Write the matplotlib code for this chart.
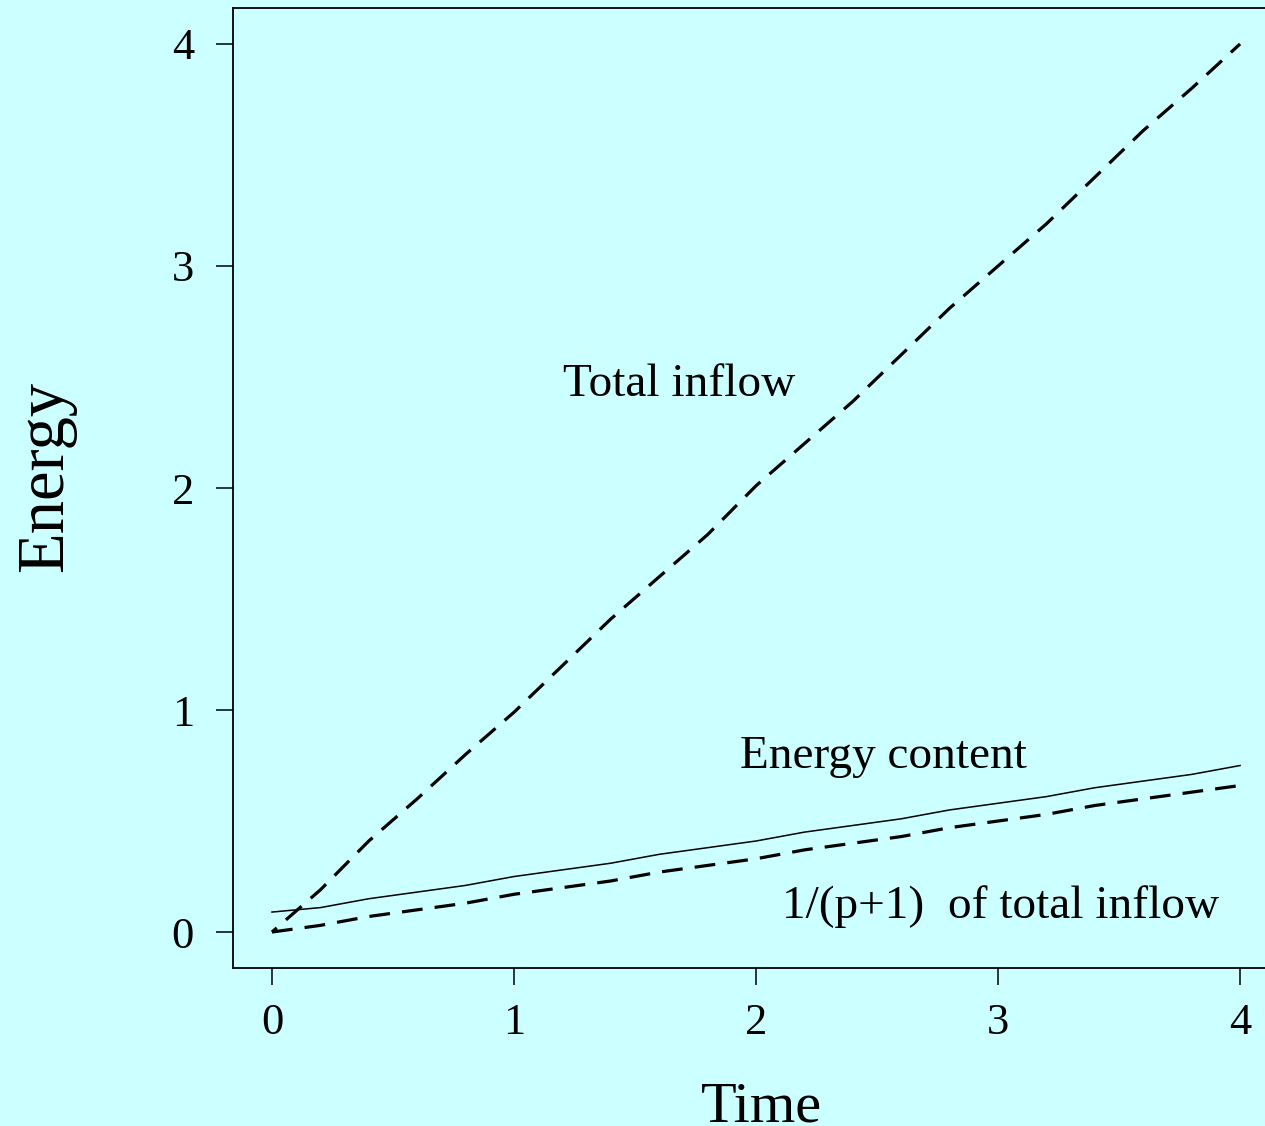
import numpy as np
import matplotlib
matplotlib.use('Agg')
import matplotlib.pyplot as plt

# values
time = [0.0, 0.2, 0.4, 0.6, 0.8, 1.0, 1.2, 1.4, 1.6, 1.8, 2.0,
        2.2, 2.4, 2.6, 2.8, 3.0, 3.2, 3.4, 3.6, 3.8, 4.0]
total_inflow = [0.00, 0.19, 0.41, 0.60, 0.80, 0.99, 1.20, 1.41, 1.60, 1.79, 2.01,
                2.20, 2.39, 2.60, 2.81, 3.00, 3.19, 3.40, 3.61, 3.80, 4.00]
energy_content = [0.09, 0.11, 0.15, 0.18, 0.21, 0.25, 0.28, 0.31, 0.35, 0.38, 0.41,
                  0.45, 0.48, 0.51, 0.55, 0.58, 0.61, 0.65, 0.68, 0.71, 0.75]
frac_inflow = [0.00, 0.03, 0.07, 0.10, 0.13, 0.17, 0.20, 0.23, 0.27, 0.30, 0.33,
               0.37, 0.40, 0.43, 0.47, 0.50, 0.53, 0.57, 0.60, 0.63, 0.66]
ticks = [0, 1, 2, 3, 4]

bg = '#ccffff'
W, H = 1265, 1126
fig = plt.figure(figsize=(W / 100, H / 100), dpi=100, facecolor=bg)
plt.rcParams['font.family'] = ['Liberation Serif', 'DejaVu Serif']

# axes box in pixels: left 233, top 8, bottom 968, right runs off the canvas
ax = fig.add_axes([233 / W, (H - 968) / H, (W - 233) / W, 960 / H])
ax.set_facecolor(bg)
ax.spines['right'].set_visible(False)
for s in ['left', 'top', 'bottom']:
    ax.spines[s].set_linewidth(1.3)

ax.plot(time, total_inflow, color='black', lw=2.3, linestyle=(4.5, (6.5, 3.8)))
ax.plot(time, frac_inflow, color='black', lw=2.3, dashes=(6.5, 3.8))
ax.plot(time, energy_content, color='black', lw=1.1)

ax.set_xlim(-0.161, 4.103)
ax.set_ylim(-0.162, 4.162)
ax.set_xticks(ticks)
ax.set_yticks(ticks)
ax.tick_params(length=12, width=1.1, labelsize=32)
ax.tick_params(axis='x', pad=13)
ax.tick_params(axis='y', pad=16)

ax.text(1.202, 2.414, 'Total inflow', fontsize=34)
ax.text(1.934, 0.739, 'Energy content', fontsize=34)
ax.text(2.107, 0.063, '1/(p+1)  of total inflow', fontsize=34)

fig.text(762 / W, 5 / H, 'Time', fontsize=42, ha='center', va='baseline')
fig.text(46 / W, 1 - 476 / H, 'Energy', fontsize=48, rotation=90,
         ha='center', va='center')

fig.savefig('out.png', dpi=100, facecolor=bg)
